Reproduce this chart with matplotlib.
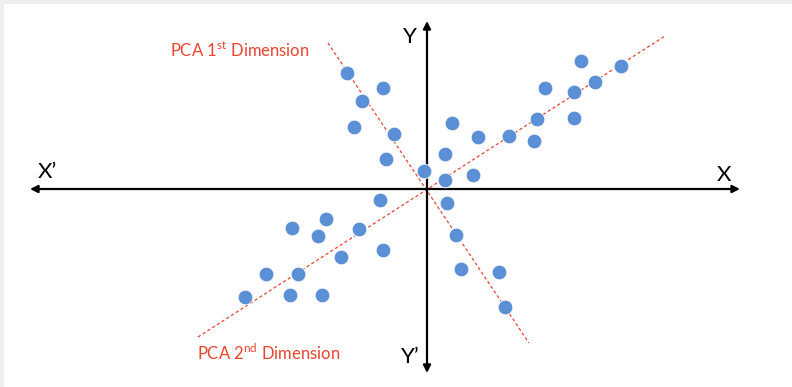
import numpy as np
import matplotlib.pyplot as plt

# scatter points (relative to the origin)
xs = [-8.0, -4.4, -6.5, -7.3, -3.3, -4.1, -0.3, 2.5, 1.8, 1.8, 5.1, 8.2, 10.7, 11.0,
      11.8, 14.7, 14.7, 15.4, 16.8, 19.4, 4.6, -4.7, 2.0, -10.1, -13.5, -10.9, -6.8,
      2.9, -4.4, -8.6, -16.1, -12.9, 3.4, 7.2, -18.2, -13.7, -10.5, 7.8]
ys = [11.6, 10.1, 8.8, 6.2, 5.5, 3.0, 1.8, 6.6, 3.5, 0.9, 5.2, 5.3, 4.8, 7.0,
      10.1, 9.7, 7.1, 12.8, 10.7, 12.3, 1.4, -1.1, -1.4, -3.0, -3.9, -4.7, -4.0,
      -4.6, -6.1, -6.8, -8.5, -8.5, -8.0, -8.3, -10.8, -10.6, -10.6, -11.8]

# principal directions (end points of dashed lines)
dim1_x = [-9.9, 10.2]
dim1_y = [14.6, -15.4]
dim2_x = [-22.9, 23.8]
dim2_y = [-14.8, 15.3]

# axis arrows extent
x_axis = [-39.7, 31.3]
y_axis = [16.8, -18.4]

plt.rcParams['font.family'] = ['Lato', 'DejaVu Sans']

fig = plt.figure(figsize=(7.92, 3.87), dpi=100, facecolor='#efefef')
ax = fig.add_axes([4 / 792, 0, 788 / 792, 383 / 387])
ax.set_facecolor('white')
ax.set_xlim(-42.3, 36.5)
ax.set_ylim(-19.8, 18.5)
ax.axis('off')
ax.add_patch(plt.Rectangle((0, 0), 1, 1, transform=ax.transAxes, color='white', zorder=0))

red = '#e9442f'
ax.plot(dim1_x, dim1_y, color=red, lw=0.9, ls=(0, (2.5, 2)), zorder=2)
ax.plot(dim2_x, dim2_y, color=red, lw=0.9, ls=(0, (2.5, 2)), zorder=2)

arrow = dict(arrowstyle='<|-|>', color='black', lw=1.6, mutation_scale=11,
             shrinkA=0, shrinkB=0)
ax.annotate('', xy=(x_axis[0], 0), xytext=(x_axis[1], 0), arrowprops=arrow)
ax.annotate('', xy=(0, y_axis[0]), xytext=(0, y_axis[1]), arrowprops=arrow)

ax.scatter(xs, ys, s=112, color='#5b8fd6', edgecolor='white', linewidth=0.6, zorder=3)

ax.text(-25.7, 13.9, 'PCA 1$^{\\mathregular{st}}$ Dimension', color=red, fontsize=12,
        va='center', ha='left')
ax.text(-23.0, -16.4, 'PCA 2$^{\\mathregular{nd}}$ Dimension', color=red, fontsize=12,
        va='center', ha='left')
ax.text(-1.7, 15.2, 'Y', fontsize=16, ha='center', va='center')
ax.text(-1.7, -16.8, 'Y\u2019', fontsize=16, ha='center', va='center')
ax.text(-38.0, 1.7, 'X\u2019', fontsize=16, ha='center', va='center')
ax.text(29.7, 1.4, 'X', fontsize=16, ha='center', va='center')

fig.savefig('out.png', dpi=100, facecolor=fig.get_facecolor())
